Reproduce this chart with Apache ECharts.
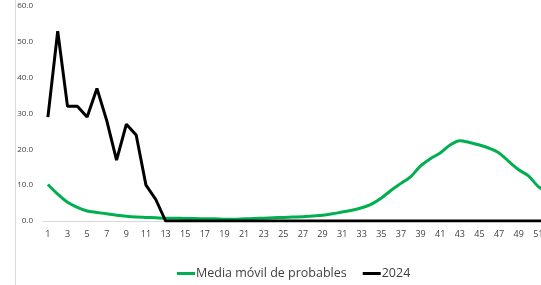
<!DOCTYPE html>
<html>
<head>
<meta charset="utf-8">
<script src="https://cdn.jsdelivr.net/npm/echarts@6/dist/echarts.min.js"></script>
<style>
  html, body { margin: 0; padding: 0; background: #fff; }
  #chart { width: 541px; height: 285px; }
</style>
</head>
<body>
<div id="chart"></div>
<script>
var weeks = [];
for (var w = 1; w <= 52; w++) weeks.push(String(w));

// media movil (semanas 1-52)
var mediaMovil = [
  10.2, 7.5, 5.2, 3.8, 2.8, 2.4, 2.0, 1.6, 1.3, 1.1,
  1.0, 0.9, 0.8, 0.8, 0.7, 0.7, 0.6, 0.6, 0.5, 0.5,
  0.6, 0.7, 0.8, 0.9, 1.0, 1.1, 1.2, 1.4, 1.6, 2.0,
  2.5, 3.0, 3.7, 4.7, 6.4, 8.6, 10.5, 12.4, 15.4, 17.4,
  19.0, 21.2, 22.4, 21.9, 21.2, 20.3, 19.0, 16.6, 14.3, 12.6,
  9.6, 8.0
];

// 2024
var serie2024 = [
  29, 53, 32, 32, 29, 37, 28, 17, 27, 24,
  10, 6, 0, 0, 0, 0, 0, 0, 0, 0,
  0, 0, 0, 0, 0, 0, 0, 0, 0, 0,
  0, 0, 0, 0, 0, 0, 0, 0, 0, 0,
  0, 0, 0, 0, 0, 0, 0, 0, 0, 0,
  0, 0
];

var yTicks = [0, 10, 20, 30, 40, 50, 60];

var chart = echarts.init(document.getElementById('chart'));
chart.setOption({
  animation: false,
  grid: { left: 43, right: -12, top: 6, bottom: 64, outerBoundsMode: 'none', containLabel: false },
  graphic: [{
    type: 'line',
    shape: { x1: 15.5, y1: 0, x2: 15.5, y2: 285 },
    style: { stroke: '#d9d9d9', lineWidth: 1 }
  }],
  legend: {
    top: 262,
    left: 172,
    itemWidth: 18,
    itemHeight: 3,
    itemGap: 16,
    textStyle: { fontFamily: 'Open Sans', fontSize: 12.5, color: '#404040', padding: [0, 0, 0, -4] },
    data: [
      { name: 'Media móvil de probables', icon: 'rect' },
      { name: '2024', icon: 'rect' }
    ]
  },
  xAxis: {
    type: 'category',
    data: weeks,
    boundaryGap: true,
    axisLine: { lineStyle: { color: '#d9d9d9', width: 1 } },
    axisTick: { show: false },
    axisLabel: {
      interval: 1,
      color: '#404040',
      fontFamily: 'Open Sans',
      fontSize: 9,
      margin: 9
    }
  },
  yAxis: {
    type: 'value',
    min: yTicks[0],
    max: yTicks[yTicks.length - 1],
    interval: 10,
    splitLine: { show: false },
    axisLine: { show: false },
    axisTick: { show: false },
    axisLabel: {
      color: '#404040',
      fontFamily: 'Open Sans',
      fontSize: 8,
      margin: 10,
      formatter: function (v) { return v.toFixed(1); }
    }
  },
  series: [
    {
      name: 'Media móvil de probables',
      type: 'line',
      data: mediaMovil,
      smooth: 0.3,
      symbol: 'none',
      lineStyle: { color: '#00b050', width: 3 },
      itemStyle: { color: '#00b050' }
    },
    {
      name: '2024',
      type: 'line',
      data: serie2024,
      symbol: 'none',
      lineStyle: { color: '#000000', width: 3 },
      itemStyle: { color: '#000000' }
    }
  ]
});
</script>
</body>
</html>
